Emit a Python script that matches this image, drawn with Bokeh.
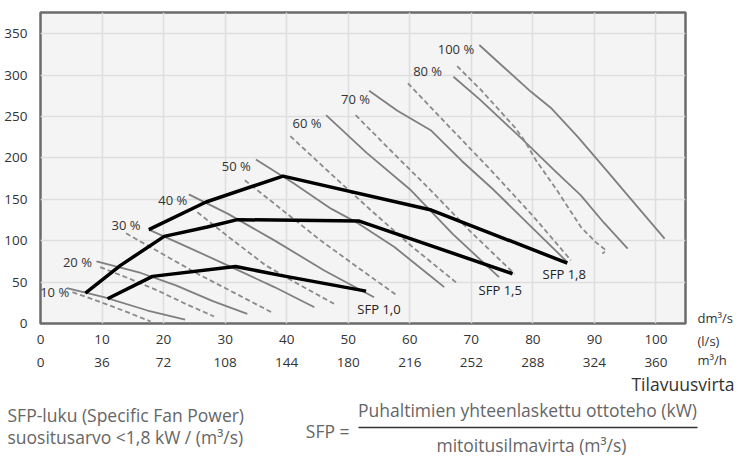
from bokeh.plotting import figure
from bokeh.models import Range1d, LinearAxis, FixedTicker, Label
from bokeh.layouts import column, row
from bokeh.core.properties import value
from bokeh.embed import file_html
from bokeh.resources import INLINE

FONT = "Open Sans"

# Fan speed steps
speed_labels = ["10 %", "20 %", "30 %", "40 %", "50 %", "60 %", "70 %", "80 %", "100 %"]
speed_label_x = [2.3, 6.0, 13.9, 21.5, 31.8, 43.3, 51.2, 62.9, 67.5]
speed_label_y = [37.9, 74.2, 119.4, 149.6, 190.3, 242.3, 271.0, 305.2, 331.0]

# Fan curves, solid (one per speed step)
solid_xs = [
    [4.3, 10.3, 17.4, 23.5],
    [9.1, 16.3, 22.0, 28.0, 33.6],
    [17.6, 24.0, 30.4, 38.0, 44.5],
    [24.1, 30.4, 38.0, 46.1, 54.2],
    [35.0, 41.0, 47.2, 51.7, 57.5, 62.9, 65.6],
    [46.4, 53.0, 60.2, 67.0, 74.5],
    [53.4, 58.0, 63.4, 68.5, 73.7, 80.0, 85.6],
    [67.1, 71.5, 78.1, 83.5, 87.8, 91.5, 95.4],
    [71.3, 75.5, 79.7, 82.9, 87.3, 91.9, 96.8, 101.4],
]
solid_ys = [
    [42.7, 31.8, 15.7, 4.8],
    [75.0, 61.0, 46.0, 27.0, 11.7],
    [113.3, 92.0, 70.2, 44.0, 19.7],
    [156.0, 132.7, 100.4, 64.1, 31.8],
    [198.0, 170.0, 138.7, 120.6, 92.3, 60.1, 43.9],
    [251.6, 206.0, 160.9, 108.0, 56.0],
    [281.0, 257.0, 233.5, 196.0, 160.9, 115.0, 74.2],
    [298.0, 269.7, 223.8, 185.0, 154.8, 122.0, 90.4],
    [336.3, 308.0, 279.8, 260.6, 225.4, 185.5, 142.7, 102.5],
]

# Fan curves, dashed (one per speed step)
dashed_xs = [
    [5.2, 9.8, 14.1, 17.9],
    [9.7, 14.5, 19.0, 23.5, 28.2],
    [13.9, 19.7, 25.5, 31.5, 37.5],
    [25.5, 31.0, 36.6, 42.0, 47.7],
    [33.2, 39.3, 45.5, 51.5, 57.7],
    [40.6, 47.0, 53.7, 60.5, 67.8],
    [51.2, 57.3, 63.4, 70.0, 77.0],
    [59.7, 66.5, 73.2, 80.0, 86.2],
    [67.7, 71.6, 77.0, 78.6, 80.5, 84.0, 87.8, 90.2, 91.9, 91.3],
]
dashed_ys = [
    [37.9, 25.8, 13.7, 2.4],
    [68.1, 54.0, 39.9, 24.0, 8.5],
    [108.9, 84.5, 60.1, 37.0, 13.7],
    [134.3, 102.0, 70.2, 47.0, 23.8],
    [173.0, 137.0, 100.4, 68.0, 35.1],
    [226.2, 182.0, 136.7, 92.0, 48.0],
    [251.6, 206.0, 160.9, 110.0, 60.1],
    [290.0, 237.0, 185.0, 130.0, 76.2],
    [310.9, 281.8, 237.5, 221.4, 197.2, 160.0, 116.5, 98.3, 88.3, 84.3],
]

# SFP limit lines
sfp_names = ["SFP 1,0", "SFP 1,5", "SFP 1,8"]
sfp_xs = [
    [10.9, 18.2, 31.7, 39.0, 52.9],
    [7.3, 13.0, 20.1, 27.1, 32.0, 51.8, 76.7],
    [17.6, 26.9, 39.4, 63.5, 85.6],
]
sfp_ys = [
    [29.9, 56.9, 68.9, 58.1, 39.1],
    [36.7, 70.2, 105.2, 116.5, 125.4, 123.7, 60.1],
    [113.3, 146.7, 178.0, 137.0, 72.9],
]
sfp_label_x = [55.0, 74.7, 85.1]
sfp_label_y = [17.8, 40.8, 59.3]

# Axis ticks
flow_ls = [0, 10, 20, 30, 40, 50, 60, 70, 80, 90, 100]
flow_m3h = ["0", "36", "72", "108", "144", "180", "216", "252", "288", "324", "360"]
pressure_ticks = [0, 50, 100, 150, 200, 250, 300, 350]
flow_units = ["dm³/s", "(l/s)", "m³/h"]

TICK_SIZE = "13.5px"
TOP_H = 370

p = figure(
    width=687, height=TOP_H,
    x_range=Range1d(0, 104.8), y_range=Range1d(0, 375.6),
    output_backend="svg", toolbar_location=None,
    min_border_left=40, min_border_right=2, min_border_top=12, min_border_bottom=47,
    x_axis_location=None,
)
p.frame_align = False
p.background_fill_color = "#f4f4f4"
p.border_fill_color = "white"
p.outline_line_color = "#6b6b6b"
p.outline_line_width = 2.5

# y axis
p.yaxis.ticker = FixedTicker(ticks=pressure_ticks)
p.yaxis.axis_line_color = None
p.yaxis.major_tick_line_color = None
p.yaxis.minor_tick_line_color = None
p.yaxis.major_label_standoff = 7
p.yaxis.major_label_text_font = FONT
p.yaxis.major_label_text_font_size = TICK_SIZE
p.yaxis.major_label_text_color = "#333333"

# two flow axes below: l/s and m3/h
ax1 = LinearAxis(ticker=FixedTicker(ticks=flow_ls))
ax2 = LinearAxis(ticker=FixedTicker(ticks=flow_ls),
                 major_label_overrides={v: s for v, s in zip(flow_ls, flow_m3h)})
for ax in (ax1, ax2):
    ax.axis_line_color = None
    ax.major_tick_line_color = None
    ax.minor_tick_line_color = None
    ax.major_label_standoff = 5
    ax.major_label_text_font = FONT
    ax.major_label_text_font_size = TICK_SIZE
    ax.major_label_text_color = "#333333"
    p.add_layout(ax, "below")

p.xgrid.ticker = FixedTicker(ticks=flow_ls)
p.ygrid.ticker = FixedTicker(ticks=pressure_ticks)
for g in (p.xgrid, p.ygrid):
    g.grid_line_color = "#dedede"
    g.grid_line_width = 1.5

# fan curves
p.multi_line(solid_xs, solid_ys, line_color="#7f7f7f", line_width=1.8)
p.multi_line(dashed_xs, dashed_ys, line_color="#8a8a8a", line_width=1.8, line_dash="5 3")

# SFP lines
p.multi_line(sfp_xs, sfp_ys, line_color="black", line_width=3.5, line_join="round")

p.text(speed_label_x, speed_label_y, text=speed_labels, text_font=value(FONT),
       text_font_size="13px", text_color="#333333", text_align="center",
       text_baseline="middle")
p.text(sfp_label_x, sfp_label_y, text=sfp_names, text_font=value(FONT),
       text_font_size="13px", text_color="#222222", text_align="center",
       text_baseline="middle")

# unit captions to the right of the flow axes (pixel space)
r = figure(
    width=57, height=TOP_H,
    x_range=Range1d(687, 744), y_range=Range1d(TOP_H, 0),
    output_backend="svg", toolbar_location=None,
    min_border=0, x_axis_location=None, y_axis_location=None,
)
r.frame_align = False
r.outline_line_color = None
r.xgrid.visible = False
r.ygrid.visible = False
r.text([697, 697, 697], [317, 340, 359], text=flow_units, text_font=value(FONT),
       text_font_size="13px", text_color="#333333", text_baseline="middle")

# caption area under the chart (pixel space)
q = figure(
    width=744, height=457 - TOP_H,
    x_range=Range1d(0, 744), y_range=Range1d(457 - TOP_H, 0),
    output_backend="svg", toolbar_location=None,
    min_border=0, x_axis_location=None, y_axis_location=None,
)
q.frame_align = False
q.outline_line_color = None
q.xgrid.visible = False
q.ygrid.visible = False

cap_style = dict(text_font=FONT, text_font_size="17.5px", text_baseline="middle")
q.add_layout(Label(x=734, y=13, text="Tilavuusvirta", text_align="right",
                   text_color="#333333", **cap_style))
q.add_layout(Label(x=7, y=44, text="SFP-luku (Specific Fan Power)",
                   text_color="#666666", **cap_style))
q.add_layout(Label(x=7, y=66, text="suositusarvo <1,8 kW / (m³/s)",
                   text_color="#666666", **cap_style))
q.add_layout(Label(x=349, y=60, text="SFP =", text_align="right",
                   text_color="#666666", **cap_style))
q.add_layout(Label(x=527, y=39, text="Puhaltimien yhteenlaskettu ottoteho (kW)",
                   text_align="center", text_color="#666666", **cap_style))
q.add_layout(Label(x=531, y=74, text="mitoitusilmavirta (m³/s)",
                   text_align="center", text_color="#666666", **cap_style))
q.line([358, 697], [57, 57], line_color="#333333", line_width=1.5)

layout = column(row(p, r, spacing=0), q, spacing=0)
open("out.html", "w").write(file_html(layout, INLINE))
